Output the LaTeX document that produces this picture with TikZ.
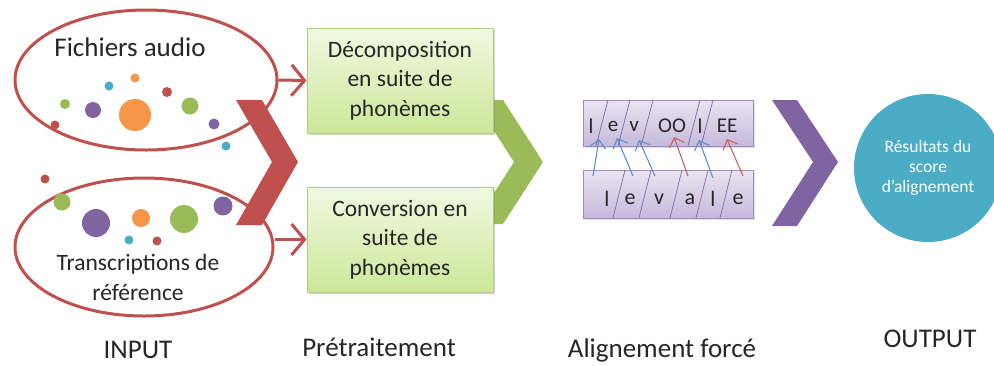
\documentclass[tikz,border=0pt]{standalone}
\usepackage{fontspec}
\setmainfont{Carlito}
\usetikzlibrary{arrows.meta,shadows,shapes.geometric}
\definecolor{cred}{HTML}{C0504D}
\definecolor{cgreen}{HTML}{9BBB59}
\definecolor{cpurple}{HTML}{8064A2}
\definecolor{cblue}{HTML}{4BACC6}
\definecolor{corange}{HTML}{F79646}
\definecolor{arrblue}{HTML}{5B8FCB}
\definecolor{txt}{HTML}{262626}
\definecolor{HTML1}{HTML}{F1F9E2}
\definecolor{HTML2}{HTML}{CCE899}
\definecolor{HTML3}{HTML}{E9E4F2}
\definecolor{HTML4}{HTML}{C6B9DC}
\tikzset{
  inell/.style={draw=cred, line width=3pt, ellipse, inner sep=0pt},
  redarrow/.style={draw=cred, line width=3pt, -{Straight Barb[length=13pt,width=31pt]}},
  stepbox/.style={draw=cgreen!75, line width=1pt, top color=HTML1, bottom color=HTML2,
     minimum width=186pt, minimum height=105pt, align=center, text=txt,
     font=\fontsize{23.5}{29.5}\selectfont, inner sep=0pt,
     drop shadow={opacity=0.35, shadow xshift=2pt, shadow yshift=-2pt}},
  phbox/.style={draw=cpurple!75, line width=0.8pt, top color=HTML3, bottom color=HTML4,
     minimum width=170pt, inner sep=0pt,
     drop shadow={opacity=0.25, shadow xshift=1.5pt, shadow yshift=-1.5pt}},
  divider/.style={draw=cpurple, line width=0.7pt},
  lettop/.style={text=txt, font=\fontsize{21}{21}\selectfont, inner sep=0pt},
  letbot/.style={text=txt, font=\fontsize{22}{22}\selectfont, inner sep=0pt},
  barrow/.style={draw=arrblue, line width=1.1pt, -{Straight Barb[length=8pt,width=16pt]}},
  rarrow/.style={draw=cred!90, line width=1.1pt, -{Straight Barb[length=8pt,width=16pt]}},
  phase/.style={text=txt, font=\fontsize{27}{27}\selectfont, inner sep=0pt},
}
\begin{document}
\begin{tikzpicture}[x=1pt,y=-1pt]
\useasboundingbox (0,0) rectangle (994,365);

% --- INPUT ellipses
\node[inell, minimum width=262pt, minimum height=140pt] (ell1) at (146,80) {};
\node[inell, minimum width=258pt, minimum height=138pt] (ell2) at (144,247) {};

% dots top
\fill[corange] (135,115) circle (16);
\fill[cpurple] (93,110) circle (8);
\fill[cgreen] (65,104) circle (5);
\fill[cblue] (109,86) circle (4.5);
\fill[corange] (135,78) circle (4.5);
\fill[cred] (167,92) circle (5);
\fill[cgreen] (190,106) circle (8.5);
\fill[cpurple] (214,124) circle (5.5);
\fill[cred] (55,125) circle (4.5);
\fill[cblue] (226,146) circle (4.5);
% dots bottom
\fill[cred] (45,179) circle (4.5);
\fill[cgreen] (62,202) circle (8.5);
\fill[cpurple] (96,223) circle (14);
\fill[corange] (141,218) circle (9);
\fill[cgreen] (184,219) circle (14);
\fill[cpurple] (223,206) circle (9.5);
\fill[cblue] (129,240) circle (4.5);
\fill[cred] (157,241) circle (4.5);

\node[text=txt, font=\fontsize{27}{27}\selectfont, inner sep=0pt] (t1) at (130,47) {Fichiers audio};
\node[text=txt, font=\fontsize{23.5}{30}\selectfont, align=center, inner sep=0pt] (t2) at (138,277) {Transcriptions de\\référence};

% --- red chevron
\fill[cred] (236,100) -- (262,100) -- (298,162) -- (262,225) -- (236,225) -- (272,162) -- cycle;

% --- green chevron (behind boxes)
\fill[cgreen] (474,100) -- (503,100) -- (543,162) -- (503,224) -- (474,224) -- (514,162) -- cycle;

% --- preprocessing boxes
\node[stepbox] (box1) at (400,80.5) {Décomposition\\en suite de\\phonèmes};
\node[stepbox] (box2) at (400,239.5) {Conversion en\\suite de\\phonèmes};

\draw[redarrow] (ell1.east) -- (box1.west);
\draw[redarrow] (box2.west -| ell2.east) -- (box2.west);

% --- alignment
\node[phbox, minimum height=46pt] (r1) at (668,123) {};
\node[phbox, minimum height=48pt] (r2) at (668,194) {};

\foreach \c in {602,624,647,694,707} \draw[divider] (\c+6,100) -- (\c-6,146);
\foreach \c in {619,645,676,702,726} \draw[divider] (\c+6,170) -- (\c-6,218);

\node[lettop] (u1) at (591,126) {l};
\node[lettop] (u2) at (613,126) {e};
\node[lettop] (u3) at (634,126) {v};
\node[lettop] (u4) at (672,126) {OO};
\node[lettop] (u5) at (700,126) {l};
\node[lettop] (u6) at (727,126) {EE};

\node[letbot] (b1) at (607,199) {l};
\node[letbot] (b2) at (630,199) {e};
\node[letbot] (b3) at (659,199) {v};
\node[letbot] (b4) at (690,199) {a};
\node[letbot] (b5) at (713,199) {l};
\node[letbot] (b6) at (738,199) {e};

\coordinate (s1) at (593,176); \coordinate (e1) at (599,139);
\coordinate (s2) at (633,176); \coordinate (e2) at (617,138);
\coordinate (s3) at (655,176); \coordinate (e3) at (639,140);
\coordinate (s4) at (688,176); \coordinate (e4) at (674,137);
\coordinate (s5) at (713,178); \coordinate (e5) at (699,140);
\coordinate (s6) at (743,176); \coordinate (e6) at (727,139);
\draw[barrow] (s1) -- (e1);
\draw[barrow] (s2) -- (e2);
\draw[barrow] (s3) -- (e3);
\draw[rarrow] (s4) -- (e4);
\draw[barrow] (s5) -- (e5);
\draw[rarrow] (s6) -- (e6);

% --- purple chevron
\fill[cpurple] (772,100) -- (797,100) -- (838,162) -- (797,226) -- (772,226) -- (813,162) -- cycle;

% --- output circle
\node[circle, fill=cblue, minimum size=148pt, inner sep=0pt, text=white, align=center,
      font=\fontsize{17.5}{20}\selectfont] (out) at (928,168) {Résultats du\\score\\d’alignement};

% --- phase labels
\node[phase] (p1) at (138,350) {INPUT};
\node[phase] (p2) at (379,347) {Prétraitement};
\node[phase] (p3) at (662,350) {Alignement forcé};
\node[phase] (p4) at (930,339) {OUTPUT};
\end{tikzpicture}
\end{document}
